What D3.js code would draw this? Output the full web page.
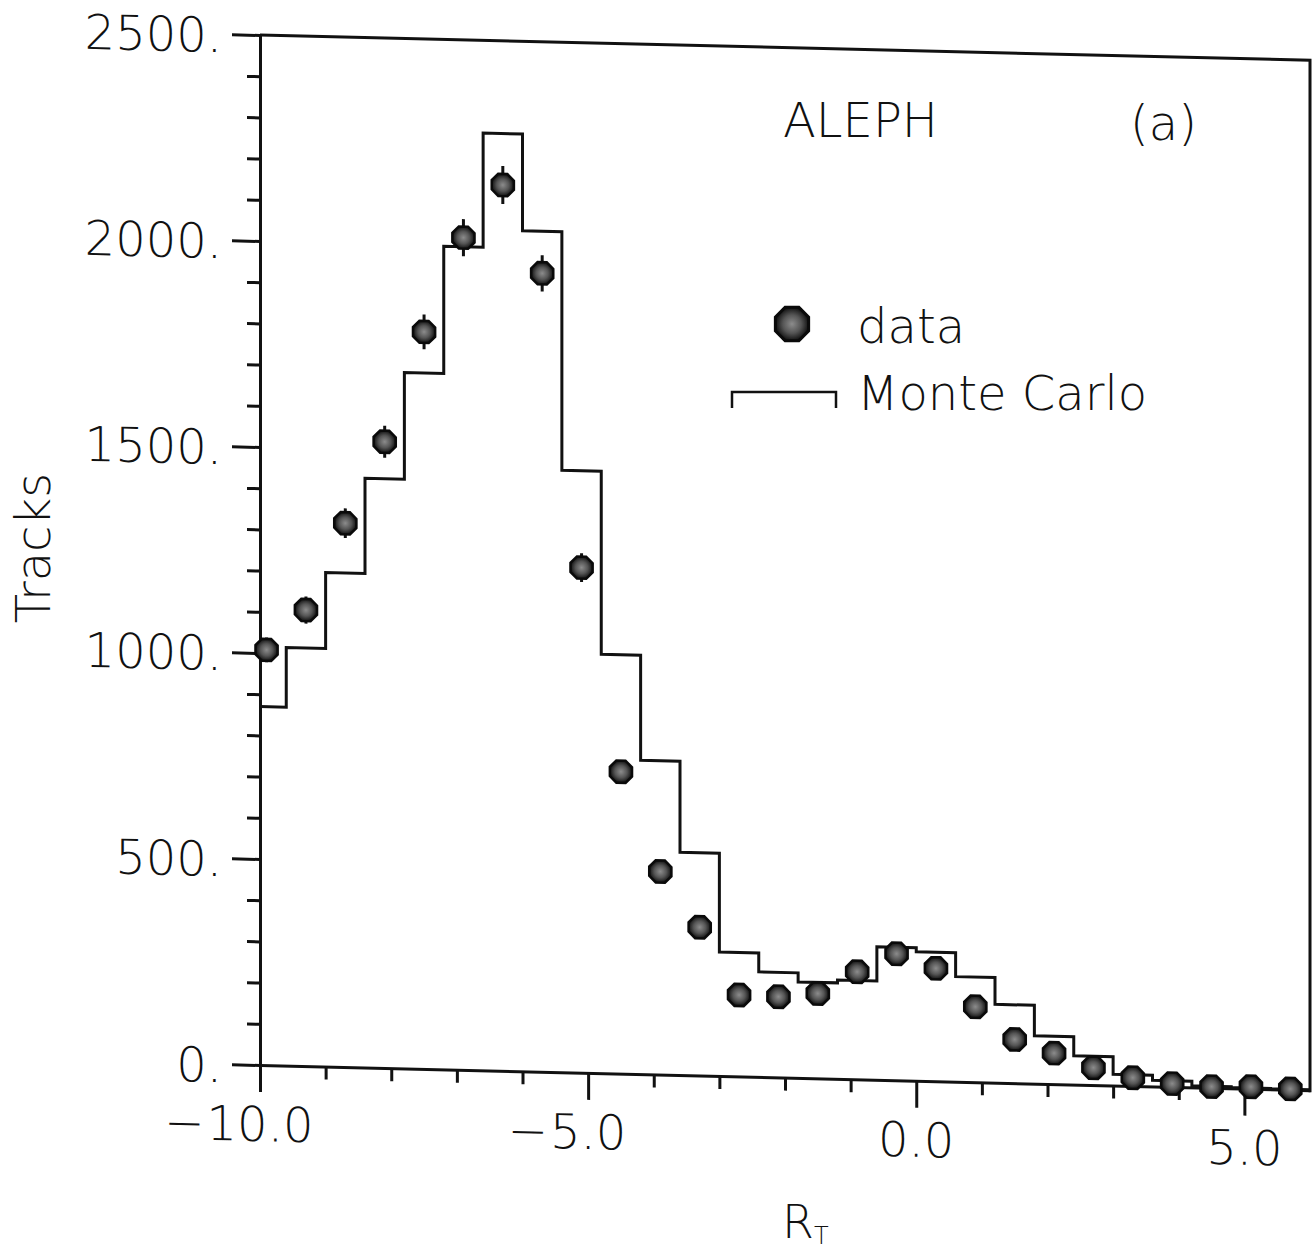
<!DOCTYPE html>
<html>
<head>
<meta charset="utf-8">
<script src="https://cdn.jsdelivr.net/npm/d3@7"></script>
<style>
  body { margin: 0; background: #fff; }
  text, tspan { font-family: "DejaVu Sans ExtraLight", "DejaVu Sans", sans-serif; font-weight: 200; fill: #111; }
</style>
</head>
<body>
<div id="svgcontainer"></div>
<script>
/**
 * values
 */
var binCenters = [-9.9, -9.3, -8.7, -8.1, -7.5, -6.9, -6.3, -5.7, -5.1, -4.5, -3.9, -3.3, -2.7,
    -2.1, -1.5, -0.9, -0.3, 0.3, 0.9, 1.5, 2.1, 2.7, 3.3, 3.9, 4.5, 5.1, 5.7];
var binWidth = 0.6;
var monteCarlo = [870, 1015, 1199, 1430, 1689, 1998, 2275, 2040, 1461, 1017, 762, 541, 301,
    255, 233, 240, 323, 313, 255, 190, 116, 70, 27, 15, 4, 2, 1];
var dataValues = [1008, 1107, 1320, 1520, 1789, 2020, 2150, 1938, 1226, 733, 493, 360, 198,
    196, 206, 261, 307, 274, 183, 106, 75, 42, 20, 8, 3, 5, 2];
var dataErrors = [30, 33, 36, 39, 42, 45, 46, 44, 35, 27, 22, 19, 14,
    14, 14, 16, 17, 16, 13, 10, 9, 6, 4, 3, 2, 2, 1];
var xMajorTicks = [-10, -5, 0, 5];
var yMajorTicks = [0, 500, 1000, 1500, 2000, 2500];

/**
 * frame of the plot
 */
var width = 1315,
    height = 1249,
    plotLeft = 260,
    plotRight = 1310,
    plotTop = 35,
    plotBottom = 1065,
    shear = Math.atan(0.024) * 180 / Math.PI; // the scan is slightly sheared

var svg = d3.select("#svgcontainer")
    .append("svg")
    .attr("width", width)
    .attr("height", height);

svg.append("rect").attr("width", width).attr("height", height).attr("fill", "#fff");

var defs = svg.append("defs");
var grad = defs.append("radialGradient").attr("id", "dot");
grad.append("stop").attr("offset", "0%").attr("stop-color", "#8c8c8c");
grad.append("stop").attr("offset", "55%").attr("stop-color", "#555");
grad.append("stop").attr("offset", "100%").attr("stop-color", "#111");

var x = d3.scaleLinear().domain([-10, 6]).range([plotLeft, plotRight]);
var y = d3.scaleLinear().domain([0, 2500]).range([plotBottom, plotTop]);

var plot = svg.append("g")
    .attr("transform", "translate(" + plotLeft + ",0) skewY(" + shear + ") translate(" + (-plotLeft) + ",0)");

/**
 * axes
 */
var xAxis = d3.axisBottom(x)
    .tickValues(d3.range(-10, 6))
    .tickSize(13)
    .tickSizeOuter(0)
    .tickFormat("");
plot.append("g")
    .attr("transform", "translate(0," + plotBottom + ")")
    .call(xAxis)
    .call(g => g.selectAll(".tick line")
        .attr("y2", d => xMajorTicks.indexOf(d) >= 0 ? 27 : 13))
    .call(g => g.selectAll("line, path").attr("stroke", "#111").attr("stroke-width", 3));

var yAxis = d3.axisLeft(y)
    .tickValues(d3.range(0, 2501, 100))
    .tickSize(13)
    .tickSizeOuter(0)
    .tickFormat("");
plot.append("g")
    .attr("transform", "translate(" + plotLeft + ",0)")
    .call(yAxis)
    .call(g => g.selectAll(".tick line")
        .attr("x2", d => yMajorTicks.indexOf(d) >= 0 ? -28 : -13))
    .call(g => g.selectAll("line, path").attr("stroke", "#111").attr("stroke-width", 3));

// top and right side of the box
plot.append("path")
    .attr("d", "M" + plotLeft + "," + plotTop + "H" + plotRight + "V" + (plotBottom + 2))
    .attr("fill", "none")
    .attr("stroke", "#111")
    .attr("stroke-width", 3);

// y labels
plot.append("g")
    .selectAll("text")
    .data(yMajorTicks)
    .join("text")
    .attr("x", plotLeft - 38)
    .attr("y", d => y(d) + 18)
    .attr("text-anchor", "end")
    .attr("font-size", 48)
    .text(d => d + ".");

// x labels, digits centred on the tick and the minus hanging to the left
var xl = plot.append("g")
    .selectAll("g")
    .data(xMajorTicks)
    .join("g");
xl.append("text")
    .attr("class", "digits")
    .attr("x", d => x(d))
    .attr("y", plotBottom + 76)
    .attr("text-anchor", "middle")
    .attr("font-size", 48)
    .text(d => Math.abs(d).toFixed(1));
xl.filter(d => d < 0)
    .append("text")
    .attr("x", function(d) {
        var w = this.parentNode.querySelector(".digits").getComputedTextLength();
        return x(d) - w / 2 - 2;
    })
    .attr("y", plotBottom + 76)
    .attr("text-anchor", "end")
    .attr("font-size", 48)
    .text("\u2212");

/**
 * Monte Carlo histogram
 */
var steps = binCenters.map((c, i) => [Math.max(-10, c - binWidth / 2), monteCarlo[i]]);
steps.push([Math.min(6, binCenters[binCenters.length - 1] + binWidth / 2), monteCarlo[monteCarlo.length - 1]]);

plot.append("path")
    .datum(steps)
    .attr("fill", "none")
    .attr("stroke", "#111")
    .attr("stroke-width", 3)
    .attr("d", d3.line().x(d => x(d[0])).y(d => y(d[1])).curve(d3.curveStepAfter));

/**
 * data points with error bars
 */
function octagon(cx, cy, r) {
    var pts = d3.range(8).map(k => {
        var a = Math.PI / 8 + k * Math.PI / 4;
        return [cx + r * Math.cos(a), cy + r * Math.sin(a)];
    });
    return "M" + pts.join("L") + "Z";
}

plot.append("g")
    .selectAll("line")
    .data(binCenters)
    .join("line")
    .attr("x1", d => x(d))
    .attr("x2", d => x(d))
    .attr("y1", (d, i) => y(dataValues[i] - dataErrors[i]))
    .attr("y2", (d, i) => y(dataValues[i] + dataErrors[i]))
    .attr("stroke", "#111")
    .attr("stroke-width", 3);

plot.append("g")
    .selectAll("path")
    .data(binCenters)
    .join("path")
    .attr("d", (d, i) => octagon(x(d), y(dataValues[i]), 12))
    .attr("fill", "url(#dot)")
    .attr("stroke", "#0a0a0a")
    .attr("stroke-width", 2.5);

/**
 * legend and captions
 */
svg.append("path")
    .attr("d", octagon(792, 324, 18))
    .attr("fill", "url(#dot)")
    .attr("stroke", "#0a0a0a")
    .attr("stroke-width", 3);
svg.append("text").attr("x", 857).attr("y", 343).attr("font-size", 48).text("data");

svg.append("path")
    .attr("d", "M732,408V392H836V408")
    .attr("fill", "none")
    .attr("stroke", "#111")
    .attr("stroke-width", 2.5);
svg.append("text").attr("x", 857).attr("y", 410).attr("font-size", 48).text("Monte Carlo");

svg.append("text").attr("x", 783).attr("y", 137).attr("font-size", 48).text("ALEPH");
svg.append("text").attr("x", 1130).attr("y", 140).attr("font-size", 48).text("(a)");

svg.append("text")
    .attr("transform", "translate(50,548) rotate(-90)")
    .attr("text-anchor", "middle")
    .attr("font-size", 48)
    .text("Tracks");

var rt = svg.append("text").attr("x", 782).attr("y", 1238).attr("font-size", 46);
rt.append("tspan").text("R");
rt.append("tspan").attr("font-size", 24).attr("dy", 6).text("T");
</script>
</body>
</html>
